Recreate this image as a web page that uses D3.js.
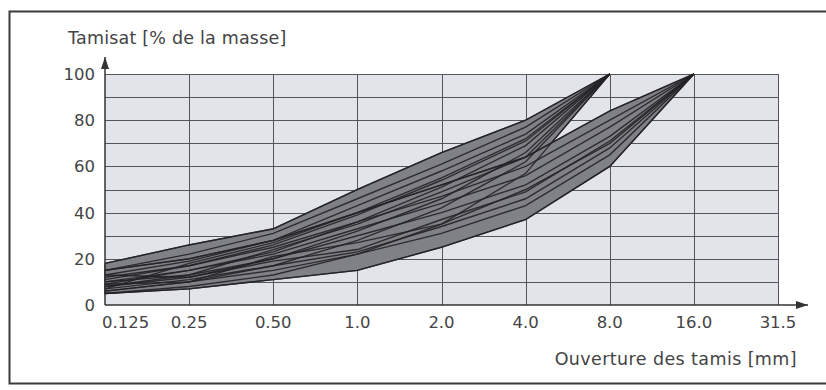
<!DOCTYPE html>
<html>
<head>
<meta charset="utf-8">
<script src="https://cdn.jsdelivr.net/npm/d3@7/dist/d3.min.js"></script>
<style>
  body { margin: 0; background: #fff; }
  text { font-family: "DejaVu Sans", "Liberation Sans", sans-serif; fill: #444; }
</style>
</head>
<body>
<svg id="chart" width="826" height="390"></svg>
<script>
// Sieve openings [mm], evenly spaced on the axis
const sieves = ["0.125", "0.25", "0.50", "1.0", "2.0", "4.0", "8.0", "16.0", "31.5"];
const yTicks = [0, 20, 40, 60, 80, 100];

// Passing [% by mass] for 0/8 mm mixes (values at 0.125 … 8.0)
const curves0_8 = [
  [18, 26, 33, 50, 66, 80, 100],
  [15, 22, 31, 46, 61, 77, 100],
  [13, 19, 28, 43, 58, 74, 100],
  [11, 17, 26, 39, 54, 71, 100],
  [9, 15, 23, 36, 51, 69, 100],
  [7, 18, 27, 40, 55, 72, 100],
  [8, 12, 20, 32, 46, 66, 100],
  [10, 13, 24, 35, 49, 64, 100],
  [6, 10, 17, 28, 42, 62, 100],
  [5, 8, 13, 22, 35, 57, 100]
];

// Passing [% by mass] for 0/16 mm mixes (values at 0.125 … 16.0)
const curves0_16 = [
  [15, 20, 28, 40, 52, 64, 84, 100],
  [12, 17, 25, 36, 47, 60, 80, 100],
  [10, 15, 22, 33, 44, 56, 77, 100],
  [8, 13, 20, 30, 40, 52, 73, 100],
  [13, 12, 19, 24, 37, 49, 71, 100],
  [7, 11, 17, 23, 34, 46, 68, 100],
  [9, 10, 21, 27, 35, 50, 70, 100],
  [6, 10, 15, 22, 31, 43, 65, 100],
  [5, 7, 11, 15, 25, 37, 60, 100]
];

const svg = d3.select("#chart");
const plotLeft = 105, plotRight = 778, plotTop = 74, plotBottom = 305;

const x = d3.scalePoint().domain(sieves).range([plotLeft, plotRight]);
const y = d3.scaleLinear().domain([0, 100]).range([plotBottom, plotTop]);

// outer frame
svg.append("rect")
  .attr("x", 9.5).attr("y", 11.5)
  .attr("width", 830).attr("height", 372)
  .attr("fill", "none").attr("stroke", "#3a3a3a").attr("stroke-width", 2);

// plot background
svg.append("rect")
  .attr("x", plotLeft).attr("y", plotTop)
  .attr("width", plotRight - plotLeft).attr("height", plotBottom - plotTop)
  .attr("fill", "#e3e4e9");

// grid
const grid = svg.append("g").attr("stroke", "#55565b").attr("stroke-width", 1);
grid.selectAll("line.h").data(d3.range(10, 101, 10)).join("line")
  .attr("class", "h")
  .attr("x1", plotLeft).attr("x2", plotRight)
  .attr("y1", d => Math.round(y(d)) + 0.5).attr("y2", d => Math.round(y(d)) + 0.5);
grid.selectAll("line.v").data(sieves.slice(1)).join("line")
  .attr("class", "v")
  .attr("x1", d => Math.round(x(d)) + 0.5).attr("x2", d => Math.round(x(d)) + 0.5)
  .attr("y1", plotTop).attr("y2", plotBottom);

// envelope band for a family of curves
function band(curves) {
  const n = curves[0].length;
  return d3.range(n).map(i => ({
    s: sieves[i],
    lo: d3.min(curves, c => c[i]),
    hi: d3.max(curves, c => c[i])
  }));
}
const area = d3.area().x(d => x(d.s)).y0(d => y(d.lo)).y1(d => y(d.hi));
[curves0_8, curves0_16].forEach(c => {
  svg.append("path").datum(band(c))
    .attr("d", area)
    .attr("fill", "#808186")
    .attr("stroke", "#2e2e32").attr("stroke-width", 1.3);
});

// individual grading curves
const line = d3.line().x((d, i) => x(sieves[i])).y(d => y(d));
svg.append("g").selectAll("path")
  .data(curves0_8.concat(curves0_16)).join("path")
  .attr("d", line)
  .attr("fill", "none")
  .attr("stroke", "#232327")
  .attr("stroke-width", 1.4)
  .attr("stroke-opacity", 0.9);

// axes with arrows
svg.append("defs").append("marker")
  .attr("id", "arrow").attr("viewBox", "0 0 12 8")
  .attr("refX", 12).attr("refY", 4)
  .attr("markerWidth", 12).attr("markerHeight", 8)
  .attr("markerUnits", "userSpaceOnUse")
  .attr("orient", "auto")
  .append("path").attr("d", "M0,0 L12,4 L0,8 Z").attr("fill", "#333");

svg.append("line")
  .attr("x1", plotLeft).attr("x2", plotLeft).attr("y1", plotBottom).attr("y2", 57)
  .attr("stroke", "#333").attr("stroke-width", 1.5).attr("marker-end", "url(#arrow)");
svg.append("line")
  .attr("x1", plotLeft).attr("x2", 808).attr("y1", plotBottom).attr("y2", plotBottom)
  .attr("stroke", "#333").attr("stroke-width", 1.5).attr("marker-end", "url(#arrow)");

// y tick labels
svg.append("g").selectAll("text").data(yTicks).join("text")
  .attr("x", 95).attr("y", d => y(d))
  .attr("dy", "0.36em")
  .attr("text-anchor", "end")
  .attr("font-size", 16.5)
  .text(d => d);

// x tick labels
svg.append("g").selectAll("text").data(sieves).join("text")
  .attr("x", (d, i) => i === 0 ? plotLeft - 3 : x(d))
  .attr("y", 328)
  .attr("text-anchor", (d, i) => i === 0 ? "start" : "middle")
  .attr("font-size", 16.5)
  .text(d => d);

// axis titles
svg.append("text")
  .attr("x", 68).attr("y", 44)
  .attr("font-size", 17.5)
  .attr("letter-spacing", 0.2)
  .text("Tamisat [% de la masse]");
svg.append("text")
  .attr("x", 797).attr("y", 365)
  .attr("text-anchor", "end")
  .attr("font-size", 17.5)
  .attr("letter-spacing", 0.4)
  .text("Ouverture des tamis [mm]");
</script>
</body>
</html>
